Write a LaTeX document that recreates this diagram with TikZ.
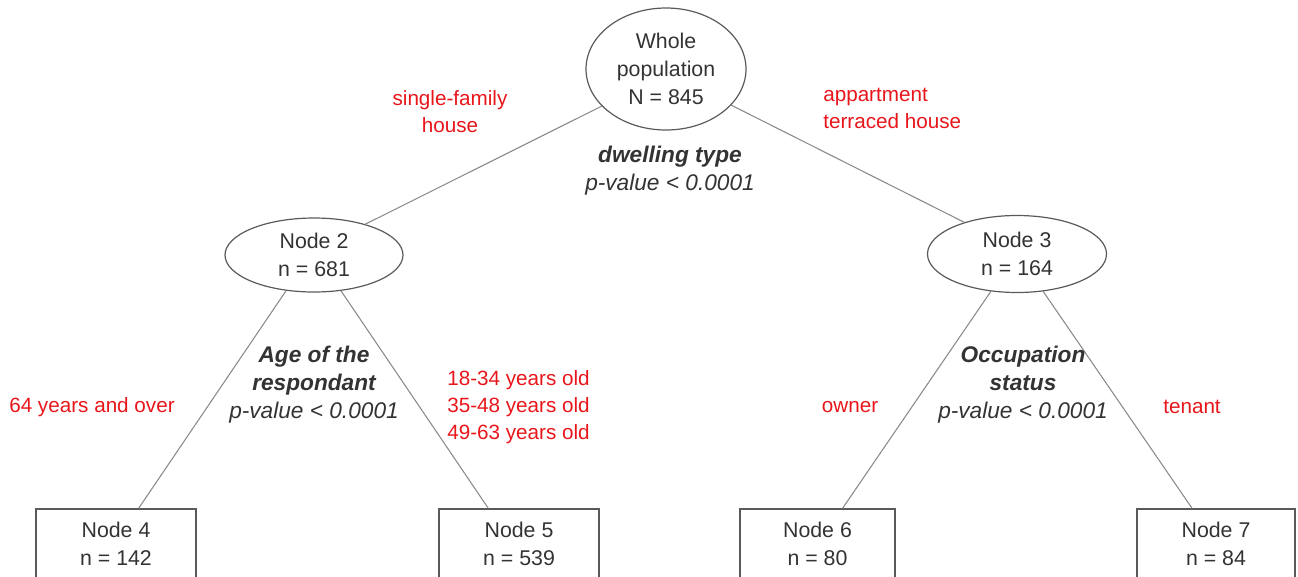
\documentclass[tikz,border=0pt]{standalone}
\usepackage{fontspec}
\setmainfont{Liberation Sans}
\usetikzlibrary{shapes.geometric,calc}
\definecolor{txt}{HTML}{333333}
\definecolor{edge}{HTML}{8A8A8A}
\definecolor{outl}{HTML}{5A5A5A}
\definecolor{lblred}{HTML}{E8161B}
\tikzset{
  ell/.style={ellipse,draw=outl,line width=0.9pt,inner sep=0pt,text=txt,align=center,
    font=\fontsize{16}{21}\selectfont},
  leaf/.style={rectangle,draw=outl,line width=0.9pt,inner sep=0pt,text=txt,align=center,
    font=\fontsize{16}{21}\selectfont},
  stat/.style={text=txt,align=center,inner sep=0pt,font=\fontsize{17}{21}\selectfont\itshape},
  lbl/.style={text=lblred,inner sep=0pt,font=\fontsize{15.5}{20.25}\selectfont},
  conn/.style={draw=edge,line width=0.8pt}
}
\begin{document}
\begin{tikzpicture}[x=0.75pt,y=-0.75pt]
\useasboundingbox (0,0) rectangle (1298,576);
\clip (0,0) rectangle (1298,576);
% nodes
\node[ell,minimum width=120pt,minimum height=91.5pt] (top) at (666,69) {Whole\\population\\N = 845};
\node[ell,minimum width=133.5pt,minimum height=55.5pt] (n2) at (314,255) {Node 2\\n = 681};
\node[ell,minimum width=134.25pt,minimum height=57.75pt] (n3) at (1017,254) {Node 3\\n = 164};
\node[leaf,minimum width=120pt,minimum height=52.5pt] (n4) at (116,544) {Node 4\\n = 142};
\node[leaf,minimum width=120pt,minimum height=52.5pt] (n5) at (519,544) {Node 5\\n = 539};
\node[leaf,minimum width=116.25pt,minimum height=52.5pt] (n6) at (817.5,544) {Node 6\\n = 80};
\node[leaf,minimum width=118.5pt,minimum height=52.5pt] (n7) at (1216,544) {Node 7\\n = 84};
% connectors
\draw[conn] (top.210) -- (n2.31);
\draw[conn] (top.331.8) -- (n3.149.5);
\draw[conn] (n2.232) -- ($(n4.north west)!0.64!(n4.north east)$);
\draw[conn] (n2.307) -- ($(n5.north west)!0.31!(n5.north east)$);
\draw[conn] (n3.235.3) -- ($(n6.north west)!0.66!(n6.north east)$);
\draw[conn] (n3.305.7) -- ($(n7.north west)!0.35!(n7.north east)$);
% split statistics
\node[stat] (s1) at (670,171) {\textbf{dwelling type}\\p-value < 0.0001};
\node[stat] (s2) at (314,385) {\textbf{Age of the}\\\textbf{respondant}\\p-value < 0.0001};
\node[stat] (s3) at (1023,385) {\textbf{Occupation}\\\textbf{status}\\p-value < 0.0001};
% branch labels
\node[lbl,align=center] (l1) at (450,112) {single-family\\house};
\node[lbl,align=left,anchor=west] (l2) at (823,108.5) {appartment\\terraced house};
\node[lbl] (l3) at (92,407) {64 years and over};
\node[lbl,align=left,anchor=west] (l4) at (447,407) {18-34 years old\\35-48 years old\\49-63 years old};
\node[lbl] (l5) at (850,407) {owner};
\node[lbl] (l6) at (1192,407) {tenant};
\end{tikzpicture}
\end{document}
